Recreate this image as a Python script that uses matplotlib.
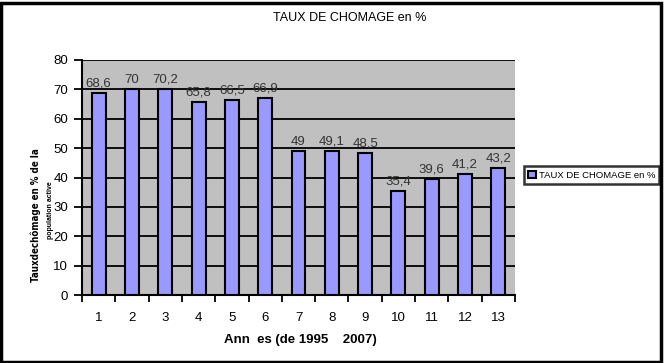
import matplotlib
matplotlib.use("Agg")
import matplotlib.pyplot as plt
from matplotlib.patches import Rectangle

categories = [1, 2, 3, 4, 5, 6, 7, 8, 9, 10, 11, 12, 13]
values = [68.6, 70, 70.2, 65.8, 66.5, 66.9, 49, 49.1, 48.5, 35.4, 39.6, 41.2, 43.2]
value_labels = ["68,6", "70", "70,2", "65,8", "66,5", "66,9", "49", "49,1", "48,5", "35,4", "39,6", "41,2", "43,2"]
yticks = [0, 10, 20, 30, 40, 50, 60, 70, 80]
title = "TAUX DE CHOMAGE en %"
series_name = "TAUX DE CHOMAGE en %"
xlabel = "Ann  es (de 1995    2007)"

W, H = 664, 363
fig = plt.figure(figsize=(W / 100, H / 100), dpi=100)
plt.rcParams['font.family'] = ['Liberation Sans', 'DejaVu Sans']

# outer border
fig.patches.append(Rectangle((1 / W, 1 / H), (W - 4) / W, (H - 4) / H, transform=fig.transFigure,
                             fill=False, edgecolor='black', linewidth=2.5))

x0, x1 = 82, 515
y0, y1 = 60, 295
ax = fig.add_axes([x0 / W, 1 - y1 / H, (x1 - x0) / W, (y1 - y0) / H])
ax.set_facecolor('#C0C0C0')
ax.set_axisbelow(True)
ax.yaxis.grid(True, color='black', linewidth=1.3)
ax.bar(categories, values, width=0.42, color='#9999FF', edgecolor='black', linewidth=1.5, zorder=3,
       label=series_name)
for c, v, lab in zip(categories, values, value_labels):
    ax.text(c, v + 1.2, lab, ha='center', va='bottom', fontsize=9.5, color='#333333', zorder=4)

ax.set_xlim(0.5, 13.5)
ax.set_ylim(0, 80)
ax.set_yticks(yticks)
ax.set_xticks(categories)
ax.set_xticks([c + 0.5 for c in [0] + categories], minor=True)
ax.tick_params(axis='x', which='major', length=0, pad=12, labelsize=9.5)
ax.tick_params(axis='x', which='minor', length=5, width=1.3, direction='out')
ax.tick_params(axis='y', length=6, width=1.3, direction='out', labelsize=9.5, pad=4)
for s in ['top', 'right']:
    ax.spines[s].set_visible(False)
for s in ['left', 'bottom']:
    ax.spines[s].set_linewidth(1.5)

fig.text(350 / W, 1 - 18 / H, title, ha='center', va='center', fontsize=9)
fig.text(300 / W, 1 - 340 / H, xlabel, ha='center', va='center', fontsize=9.5, fontweight='bold')
fig.text(36 / W, 1 - 215 / H, "Tauxdechômage en % de la", rotation=90, ha='center', va='center',
         fontsize=7, fontweight='bold', family='DejaVu Sans', stretch='condensed')
fig.text(50 / W, 1 - 210 / H, "population active", rotation=90, ha='center', va='center',
         fontsize=5, fontweight='bold')

# legend
leg = ax.legend(loc='center left', bbox_to_anchor=(524 / W, 1 - 175 / H), bbox_transform=fig.transFigure,
                fontsize=6.8, frameon=True, fancybox=False, edgecolor='black', handlelength=0.8,
                handleheight=0.8, handletextpad=0.3, borderpad=0.45, borderaxespad=0)
leg.get_frame().set_linewidth(1.8)

fig.savefig("out.png", dpi=100)
